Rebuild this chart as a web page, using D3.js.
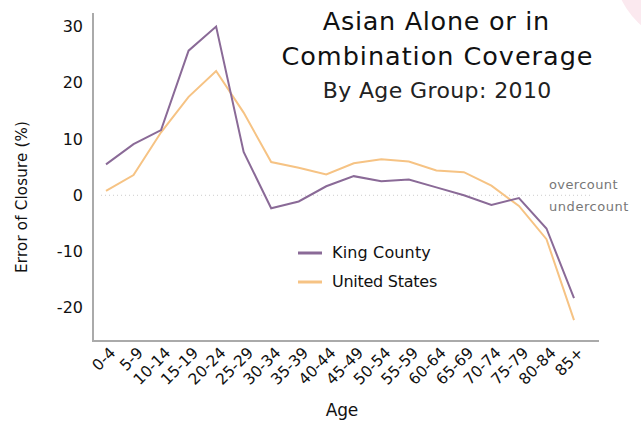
<!DOCTYPE html>
<html><head><meta charset="utf-8">
<script src="https://cdn.jsdelivr.net/npm/d3@7"></script>
<style>body{margin:0;background:#fff}svg{display:block}</style>
</head><body><svg id="c" width="641" height="422"></svg>
<script>
const ages = ["0-4","5-9","10-14","15-19","20-24","25-29","30-34","35-39","40-44","45-49","50-54","55-59","60-64","65-69","70-74","75-79","80-84","85+"];
const kingCounty = [5.5,9.1,11.6,25.7,30.0,7.7,-2.3,-1.1,1.6,3.4,2.5,2.8,1.4,0.0,-1.7,-0.5,-5.9,-18.3];
const unitedStates = [0.8,3.6,11.2,17.5,22.1,14.7,5.9,4.9,3.7,5.7,6.4,6.0,4.4,4.1,1.7,-1.9,-7.8,-22.2];
const yTicks = [-20,-10,0,10,20,30];

const svg = d3.select("#c");
const F = "'DejaVu Sans', Verdana, sans-serif";
function fit(sel, w){
  const n = sel.node(); const len = n.getComputedTextLength(); const k = n.textContent.length;
  const ls = (w - len)/k; sel.attr("letter-spacing", ls.toFixed(2));
  if (sel.attr("text-anchor")==="middle") sel.attr("dx", (ls/2).toFixed(2));
  return sel;
}
svg.append("circle").attr("cx",700).attr("cy",-40).attr("r",88).attr("fill","#fbe9ef");

const x = d3.scalePoint().domain(ages).range([106,574]);
const y = d3.scaleLinear().domain([-25.9,32.4]).range([341,13]);

svg.append("line").attr("x1",93).attr("x2",93).attr("y1",13).attr("y2",341).attr("stroke","#aaa").attr("stroke-width",2);
svg.append("line").attr("x1",92).attr("x2",599).attr("y1",341).attr("y2",341).attr("stroke","#aaa").attr("stroke-width",2);

const yAx = d3.axisLeft(y).tickValues(yTicks).tickSize(0).tickPadding(0).tickFormat(d=>String(d));
const gy = svg.append("g").attr("transform","translate(83,0)").call(yAx);
gy.select(".domain").remove();
gy.selectAll("text").attr("font-family",F).attr("font-size",16).attr("fill","#111");

const xAx = d3.axisBottom(x).tickSize(0).tickPadding(0);
const gx = svg.append("g").attr("transform","translate(0,348)").call(xAx);
gx.select(".domain").remove();
gx.selectAll("text").attr("font-family",F).attr("font-size",15.5).attr("fill","#111")
  .attr("text-anchor","end").attr("dy","0.72em").attr("transform","rotate(-45)").attr("x",3).attr("y",0);

svg.append("line").attr("x1",101).attr("x2",590).attr("y1",y(0)).attr("y2",y(0))
  .attr("stroke","#ccc").attr("stroke-width",1).attr("stroke-dasharray","1,3");

const line = d3.line().x((d,i)=>x(ages[i])).y(d=>y(d));
svg.append("path").datum(unitedStates).attr("d",line).attr("fill","none").attr("stroke","#f6c384").attr("stroke-width",2);
svg.append("path").datum(kingCounty).attr("d",line).attr("fill","none").attr("stroke","#8a6a97").attr("stroke-width",2);

const t = svg.append("g").attr("font-family",F).attr("text-anchor","middle");
fit(t.append("text").attr("x",436).attr("y",30).attr("font-size",25.5).attr("fill","#111").attr("text-anchor","middle").text("Asian Alone or in"),227);
fit(t.append("text").attr("x",437).attr("y",65).attr("font-size",25.5).attr("fill","#111").attr("text-anchor","middle").text("Combination Coverage"),312);
fit(t.append("text").attr("x",437).attr("y",98).attr("font-size",22).attr("fill","#222").attr("text-anchor","middle").text("By Age Group: 2010"),229);

fit(svg.append("text").attr("x",549).attr("y",189).attr("font-family",F).attr("font-size",13).attr("fill","#777").text("overcount"),69);
fit(svg.append("text").attr("x",549).attr("y",211).attr("font-family",F).attr("font-size",13).attr("fill","#777").text("undercount"),80);

const leg = [["King County","#8a6a97",253,99],["United States","#f6c384",282,105]];
leg.forEach(([n,c,yy,w])=>{
  svg.append("line").attr("x1",298).attr("x2",322).attr("y1",yy).attr("y2",yy).attr("stroke",c).attr("stroke-width",3);
  fit(svg.append("text").attr("x",332).attr("y",yy+5).attr("font-family",F).attr("font-size",16).attr("fill","#111").text(n),w);
});

fit(svg.append("text").attr("x",342).attr("y",416).attr("text-anchor","middle").attr("font-family",F).attr("font-size",17).attr("fill","#111").text("Age"),32);
fit(svg.append("text").attr("transform","translate(27,197) rotate(-90)").attr("text-anchor","middle").attr("font-family",F).attr("font-size",15).attr("fill","#111").text("Error of Closure (%)"),152);
</script></body></html>
